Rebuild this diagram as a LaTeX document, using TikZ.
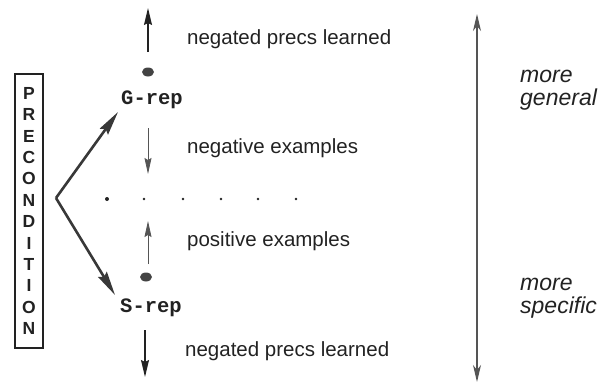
\documentclass[tikz,border=0pt]{standalone}
\usepackage{fontspec}
\setmainfont{Liberation Sans}
\newfontfamily\monob{Liberation Mono}
\usetikzlibrary{arrows.meta,shapes.geometric}
\definecolor{ink}{HTML}{222222}
\definecolor{lgray}{HTML}{555555}
\tikzset{
  lbl/.style={anchor=west, inner sep=0pt, text=ink, font=\fontsize{20.5}{24}\selectfont},
  side/.style={anchor=west, inner sep=0pt, align=left, text=ink, font=\fontsize{23}{23.5}\selectfont\itshape},
  rep/.style={inner sep=0pt, text=ink, font=\monob\bfseries\fontsize{20.5}{24}\selectfont},
  blob/.style={ellipse, fill=ink!85, minimum width=12pt, minimum height=9pt, inner sep=0pt},
  sdot/.style={circle, fill=ink, minimum size=2.8pt, inner sep=0pt},
  arr/.style={-{Stealth[length=17pt,width=8pt,inset=2pt]}, line width=1.2pt, draw=ink},
  larr/.style={-{Stealth[length=16pt,width=7pt,inset=2pt]}, line width=0.8pt, draw=lgray},
  varr/.style={-{Stealth[length=24pt,width=10pt,inset=3pt]}, line width=2.6pt, draw=ink!90},
  scalearr/.style={{Stealth[length=17pt,width=8pt,inset=5pt]}-{Stealth[length=17pt,width=8pt,inset=5pt]}, line width=1.2pt, draw=lgray},
}
\begin{document}
\begin{tikzpicture}[x=1pt,y=-1pt]
\useasboundingbox (0,0) rectangle (606,386);
% precondition box
\node[draw=ink, line width=1.6pt, minimum width=28pt, minimum height=274pt, inner sep=0pt,
      align=center, text=ink, font=\fontsize{17.5}{21.4}\selectfont\bfseries]
  (box) at (29,211) {P\\R\\E\\C\\O\\N\\D\\I\\T\\I\\O\\N};
% reps
\node[blob] (gdot) at (148,72) {};
\node[rep] (grep) at (152,100) {G-rep};
\node[blob] (sdot) at (146,277) {};
\node[rep] (srep) at (151,308) {S-rep};
% V arrows
\coordinate (apex) at (56,198);
\coordinate (gtip) at (118,112);
\coordinate (stip) at (115,295);
\draw[varr] (apex) -- (gtip);
\draw[varr] (apex) -- (stip);
% vertical arrows
\coordinate (t1) at (148,52); \coordinate (t0) at (148,8);
\draw[arr] (t1) -- (t0);
\coordinate (n0) at (148,128); \coordinate (n1) at (148,174);
\draw[larr] (n0) -- (n1);
\coordinate (p0) at (148,264); \coordinate (p1) at (148,221);
\draw[larr] (p0) -- (p1);
\coordinate (b0) at (145,330); \coordinate (b1) at (145,377);
\draw[arr] (b0) -- (b1);
% dots
\node[sdot, minimum size=4pt] (d1) at (107,199) {};
\node[sdot] (d2) at (144,199) {};
\node[sdot] (d3) at (183,199) {};
\node[sdot] (d4) at (221,199) {};
\node[sdot] (d5) at (258,199) {};
\node[sdot] (d6) at (296,199) {};
% labels
\node[lbl] (l1) at (187,39) {negated precs learned};
\node[lbl] (l2) at (187,148) {negative examples};
\node[lbl] (l3) at (187,241) {positive examples};
\node[lbl] (l4) at (185,351) {negated precs learned};
% scale
\coordinate (s0) at (477,14); \coordinate (s1) at (477,382);
\draw[scalearr] (s0) -- (s1);
\node[side] (mg) at (520,90) {more\\general};
\node[side] (ms) at (520,298) {more\\specific};
\end{tikzpicture}
\end{document}
